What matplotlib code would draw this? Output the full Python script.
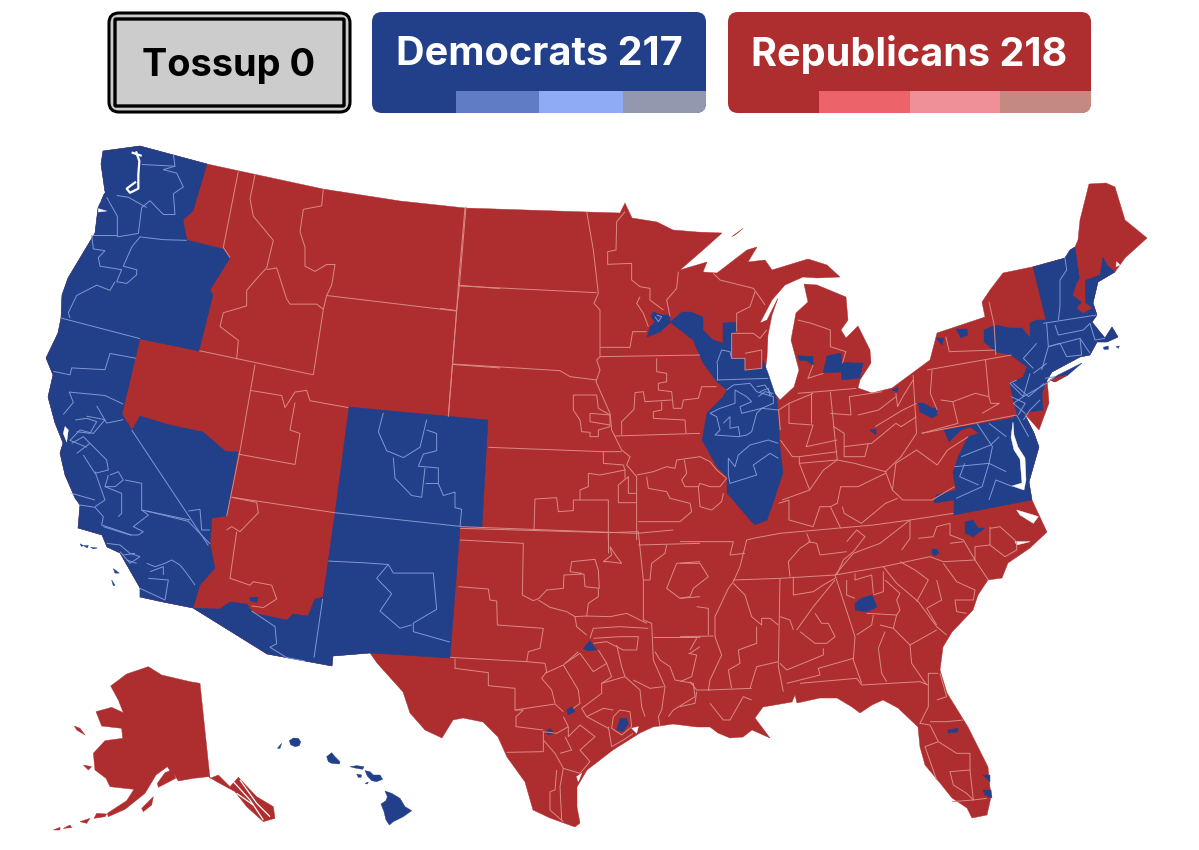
import matplotlib
matplotlib.use('Agg')
import matplotlib.pyplot as plt
from matplotlib.patches import FancyBboxPatch, Polygon, Rectangle
from matplotlib.collections import LineCollection

plt.rcParams['font.family'] = ['Inter', 'DejaVu Sans']

DEM = '#223f8a'
REP = '#ae2e30'
DEM_LINE = '#7f97d4'
REP_LINE = '#da8a84'

# header
labels = ['Tossup 0', 'Democrats 217', 'Republicans 218']
dem_shades = ['#5f7cc4', '#8fabf6', '#9498ae']
rep_shades = ['#ed636a', '#ef9098', '#c48a82']


# converters from the crops I read the outlines on
def z2(p): return [(30 + x / 3, 130 + y / 2.9) for x, y in p]
def z3(p): return [(620 + x / 2.9, 170 + y / 3) for x, y in p]
def z4(p): return [(30 + x / 3, 650 + y / 3) for x, y in p]
def z5(p): return [(680 + x / 3, 500 + y / 3) for x, y in p]
def z6(p): return [(360 + x / 3, 520 + y / 3) for x, y in p]
def z7(p): return [(440 + x / 3, 200 + y / 3) for x, y in p]
def z8(p): return [(40 + x / 3, 400 + y / 3) for x, y in p]
def z9(p): return [(980 + x / 3, 240 + y / 3) for x, y in p]


# outlines, pixel positions on the map
north_east_gulf = [(140, 146), (207, 164), (323, 189), (400, 201), (465, 208), (587, 212), (620, 213), (625, 203),
    (632, 218), (657, 222), (673, 230), (697, 232), (722, 233), (703, 250), (680, 270), (707, 262), (703, 272),
    (717, 273), (747, 250), (757, 247), (748, 262), (765, 260), (772, 270), (808, 259), (827, 265), (840, 277),
    (817, 278), (803, 277), (785, 285), (772, 300), (760, 323), (767, 320), (778, 298), (772, 315), (768, 335),
    (767, 357), (765, 373), (772, 390), (780, 400), (794, 387), (799, 370), (791, 340), (796, 313), (808, 302),
    (804, 284), (817, 285), (846, 297), (848, 320), (841, 330), (846, 338), (858, 326), (870, 350), (871, 363),
    (860, 380), (858, 388), (872, 393), (892, 388), (930, 360), (937, 333), (985, 317), (982, 302), (990, 290),
    (1003, 273), (1032, 267), (1065, 258), (1070, 250), (1075, 247), (1078, 240), (1080, 220), (1089, 184),
    (1106, 183), (1115, 187), (1125, 220), (1147, 238), (1125, 258), (1115, 272), (1098, 282), (1093, 303),
    (1097, 315), (1092, 322), (1100, 332), (1105, 338), (1112, 327), (1118, 337), (1107, 342), (1097, 342),
    (1090, 355), (1080, 357), (1052, 372), (1047, 380), (1048, 390), (1049, 403), (1039, 430), (1024, 413),
    (1034, 433), (1039, 447), (1029, 482), (1032, 500), (1047, 532), (1030, 548), (1008, 563), (1002, 578), (988, 580),
    (978, 595), (973, 610), (952, 632), (943, 647), (940, 670), (947, 693), (968, 727), (988, 767), (991, 797),
    (987, 815), (972, 818), (967, 808), (952, 798), (940, 783), (925, 765), (920, 747), (918, 727), (898, 708),
    (883, 700), (872, 705), (860, 713), (852, 707), (837, 698), (820, 698), (797, 703), (795, 695), (792, 702),
    (763, 707), (755, 718), (770, 738), (752, 730), (743, 737), (730, 738), (718, 733), (710, 727), (697, 727),
    (673, 724), (653, 727), (640, 733), (613, 750), (587, 770), (577, 787), (577, 807), (580, 823), (575, 827),
    (550, 818), (533, 810), (525, 782), (507, 757), (498, 737), (483, 722), (463, 718), (453, 720), (442, 738),
    (425, 730), (410, 713), (403, 692), (377, 663), (370, 653)]
mexico_border = [(333, 656), (332, 666), (267, 654), (193, 608)]
west_coast = [(163, 602), (140, 597), (140, 588), (120, 553), (107, 547), (102, 535), (78, 528), (80, 505), (75, 498),
    (65, 475), (60, 453), (63, 443), (55, 423), (48, 397), (53, 375), (46, 358), (58, 333), (61, 318), (62, 295),
    (68, 278), (80, 258), (95, 233), (98, 208), (105, 192), (101, 164), (103, 151)]

dem_west_edge = [(140, 146), (207, 164), (193, 211), (183, 220), (187, 240), (223, 249), (230, 258), (210, 290),
    (213, 295), (199, 351), (140, 339), (122, 414), (132, 430), (140, 416), (170, 425), (203, 432), (225, 451),
    (238, 452), (227, 516), (212, 518), (210, 544), (215, 568), (200, 585), (193, 608)]
dem_southwest = [(193, 608), (220, 609), (230, 602), (247, 604), (253, 613), (287, 620), (293, 614), (308, 616),
    (315, 599), (323, 597), (335, 513), (349, 407), (488, 420), (482, 527), (460, 528), (450, 658), (370, 653),
    (333, 656), (332, 666), (267, 654)]
dem_midwest = [(670, 322), (682, 312), (691, 312), (703, 317), (703, 330), (713, 340), (723, 343), (723, 323), (737, 322),
    (737, 332), (732, 333), (732, 358), (745, 358), (745, 370), (762, 368), (763, 360), (768, 373), (777, 400),
    (780, 447), (783, 473), (773, 503), (767, 520), (755, 525), (750, 520), (727, 493), (727, 477), (717, 467),
    (702, 440), (707, 413), (723, 397), (727, 390), (717, 382), (703, 363), (693, 340)]
dem_minneapolis = [(653, 312), (662, 315), (670, 315), (670, 323), (660, 332), (647, 337), (650, 327), (655, 322), (651, 317)]
dem_northeast = [(1033, 267), (1065, 258), (1070, 250), (1075, 247), (1080, 283), (1086, 280), (1100, 275),
    (1103, 257), (1107, 265), (1115, 272), (1098, 282), (1093, 303), (1097, 315), (1092, 322), (1100, 332),
    (1105, 338), (1112, 327), (1118, 337), (1107, 342), (1097, 342), (1090, 355), (1080, 357), (1052, 372),
    (1047, 380), (1042, 393), (1043, 410), (1024, 413), (1034, 433), (1039, 447), (1029, 482), (1032, 500),
    (954, 515), (954, 500), (934, 503), (936, 495), (956, 490), (953, 473), (958, 457), (968, 437), (979, 433),
    (970, 427), (961, 430), (949, 442), (944, 430), (1013, 418), (1017, 413), (1013, 400), (1010, 383), (1023, 377),
    (1027, 367), (1011, 355), (996, 352), (984, 342), (984, 330), (996, 325), (1010, 328), (1022, 328), (1030, 338),
    (1030, 323), (1037, 320), (1046, 320)]
dem_long_island = [(1058, 375), (1082, 363), (1068, 375), (1055, 382), (1050, 380)]
rep_new_hampshire = [(1080, 278), (1085, 280), (1085, 303), (1092, 308), (1083, 313), (1077, 308), (1082, 302),
    (1073, 295), (1077, 283)]
rep_long_island = [(1068, 375), (1055, 382), (1050, 380), (1058, 377)]

dem_small = [
    z3([(515, 557), (530, 558), (560, 560), (560, 585), (540, 572), (520, 572)]),
    [(827, 356), (841, 353), (842, 362), (854, 363), (863, 363), (860, 378), (842, 380), (841, 372), (823, 373)],
    [(956, 329), (967, 329), (968, 335), (961, 338)],
    [(936, 338), (944, 338), (942, 345)],
    [(891, 390), (898, 387), (898, 392)],
    [(918, 403), (923, 403), (932, 408), (937, 408), (937, 415), (932, 418), (920, 412)],
    [(870, 430), (876, 429), (876, 435)],
    [(965, 522), (973, 520), (978, 528), (985, 528), (973, 537), (965, 533)],
    [(932, 549), (937, 549), (939, 553), (935, 556), (932, 554)],
    [(855, 603), (862, 598), (872, 595), (877, 607), (867, 612), (855, 610)],
    [(948, 730), (958, 728), (958, 732), (948, 733)],
    [(983, 775), (990, 775), (990, 782)],
    [(983, 790), (991, 790), (992, 798), (985, 795)],
    z6([(670, 385), (690, 362), (710, 390), (680, 392)]),
    z6([(620, 570), (635, 560), (645, 575), (625, 585)]),
    z6([(555, 635), (570, 625), (585, 640), (565, 645)]),
    z6([(780, 595), (800, 595), (805, 610), (790, 635), (770, 630)]),
    z2([(660, 1355), (685, 1355), (680, 1370), (660, 1365)]),
    z2([(150, 1200), (160, 1205), (155, 1208)]),
    z2([(160, 1205), (175, 1205), (172, 1212)]),
    z2([(182, 1210), (202, 1212), (190, 1215)]),
    z2([(250, 1272), (268, 1285), (255, 1285)]),
    z2([(245, 1305), (255, 1320), (250, 1322)]),
    z9([(370, 322), (385, 318), (385, 328), (372, 328)]),
    z9([(408, 320), (418, 318), (415, 325)]),
]

hawaii = [
    z4([(1065, 423), (1085, 430), (1110, 445), (1125, 470), (1145, 482), (1120, 500), (1090, 515), (1078, 525),
        (1068, 510), (1062, 485), (1053, 462), (1068, 452), (1072, 440)]),
    z4([(1005, 362), (1020, 365), (1030, 375), (1050, 375), (1058, 388), (1040, 395), (1025, 392), (1012, 378)]),
    z4([(960, 350), (980, 347), (1002, 350), (998, 358), (975, 354)]),
    z4([(980, 372), (995, 375), (993, 382), (985, 382)]),
    z4([(1005, 400), (1015, 396), (1012, 402)]),
    z4([(890, 320), (905, 308), (915, 320), (930, 335), (928, 342), (905, 340), (895, 335)]),
    z4([(778, 272), (790, 264), (805, 265), (812, 275), (808, 287), (795, 290), (782, 284)]),
    z4([(742, 295), (755, 280), (750, 295)]),
]

alaska = z4([(355, 50), (395, 75), (480, 95), (510, 100), (540, 385), (565, 375), (600, 410), (625, 382), (680, 440),
    (730, 470), (735, 505), (700, 515), (650, 470), (615, 425), (560, 395), (535, 380), (490, 385), (445, 393),
    (432, 372), (437, 385), (385, 412), (382, 400), (405, 368), (420, 362), (412, 350), (378, 375), (360, 405),
    (345, 430), (285, 478), (235, 500), (232, 490), (290, 452), (312, 418), (240, 410), (228, 385), (195, 360),
    (190, 310), (225, 272), (278, 265), (275, 235), (215, 228), (198, 185), (245, 172), (280, 188), (265, 150),
    (242, 108), (290, 72)])
alaska_islands = [
    z4([(133, 228), (150, 235), (165, 255), (140, 240)]),
    z4([(160, 345), (185, 350), (175, 360)]),
    z4([(335, 475), (370, 440), (365, 465), (340, 485)]),
    z4([(230, 492), (200, 490), (192, 505), (225, 500)]),
    z4([(180, 505), (150, 515), (170, 520)]),
    z4([(120, 525), (100, 535), (125, 533)]),
    z4([(90, 532), (70, 540), (90, 540)]),
    z7([(875, 110), (910, 85), (885, 105)]),
]
alaska_channels = [
    z4([(610, 395), (660, 450), (700, 510)]),
    z4([(630, 390), (680, 460), (720, 500)]),
    z4([(620, 430), (670, 465)]),
]

white_water = [
    z2([(205, 228), (230, 235), (205, 238)]),
    z2([(215, 175), (225, 180), (215, 190), (210, 210)]),
    z2([(105, 860), (115, 870), (110, 905), (100, 880)]),
    [(1013, 422), (1011, 437), (1014, 450), (1020, 459), (1022, 483), (1012, 486), (1024, 490), (1026, 480),
     (1025, 458), (1018, 447), (1014, 435)],
    z5([(1010, 30), (1060, 45), (1075, 50), (1060, 70), (1020, 45)]),
    z5([(1005, 125), (1050, 125), (1010, 135)]),
    z6([(815, 625), (835, 620), (830, 640)]),
    z6([(650, 770), (665, 760), (655, 785)]),
    z9([(410, 65), (420, 75), (408, 80)]),
    z9([(430, 70), (440, 72), (432, 85)]),
    z9([(448, 55), (458, 58), (450, 70)]),
]
puget_sound = [
    z2([(318, 62), (328, 90), (325, 130), (325, 170), (300, 182), (290, 170), (318, 150)]),
    z2([(305, 65), (335, 75)]),
]

# district and state lines on the red side
rep_lines = [
    # mountain west
    z2([(625, 120), (580, 340), (600, 370)]),
    z2([(675, 130), (660, 200), (670, 250), (730, 320), (710, 400), (690, 420), (650, 465), (650, 510), (580, 530),
        (570, 570), (625, 610), (620, 665)]),
    z2([(880, 170), (875, 220), (820, 230), (810, 295), (825, 340), (825, 395), (855, 410), (890, 390), (915, 390),
        (905, 450), (890, 480), (880, 520), (850, 710)]),
    z2([(710, 405), (740, 400), (770, 490), (780, 505), (860, 505), (880, 520)]),
    z2([(890, 480), (1280, 525)]),
    z2([(1305, 225), (1285, 450), (1280, 525), (1255, 830)]),
    z2([(1285, 450), (1410, 460)]),
    z2([(1268, 680), (1410, 690)]),
    z2([(508, 640), (850, 710)]),
    z2([(675, 680), (630, 930), (590, 1120)]),
    z2([(660, 755), (755, 770), (765, 805), (795, 760), (830, 755), (840, 785), (955, 805)]),
    z2([(795, 790), (780, 870), (810, 880), (795, 970), (625, 940)]),
    z2([(605, 1065), (915, 1110)]),
    z2([(605, 1065), (680, 1080), (685, 1110), (630, 1165), (605, 1150), (590, 1160)]),
    z2([(620, 1165), (600, 1300), (660, 1320), (670, 1310), (725, 1320), (740, 1360), (700, 1385), (665, 1380)]),
    # plains and upper midwest
    z7([(78, 20), (58, 260), (50, 330), (25, 650)]),
    z7([(0, 325), (50, 332)]),
    z7([(60, 258), (470, 278)]),
    z7([(38, 492), (360, 512), (390, 530), (470, 540)]),
    z7([(440, 35), (460, 150), (475, 280), (462, 310), (480, 330), (480, 470), (470, 480), (480, 510), (468, 545),
        (510, 640), (515, 690), (545, 750), (570, 770), (560, 795), (590, 830), (590, 1020)]),
    z7([(145, 742), (490, 755), (545, 755)]),
    z7([(480, 470), (780, 465)]),
    z7([(480, 442), (570, 442), (578, 395), (620, 395)]),
    z7([(555, 35), (530, 65), (528, 150), (503, 155), (503, 193), (575, 190), (575, 240), (600, 260), (630, 265),
        (630, 300), (670, 330)]),
    z7([(600, 290), (590, 310), (610, 340), (625, 380)]),
    z7([(690, 350), (680, 300), (710, 265), (715, 215)]),
    z7([(820, 220), (840, 240), (940, 265), (965, 300), (975, 315)]),
    z7([(945, 275), (930, 320), (890, 340), (890, 395)]),
    z7([(875, 400), (940, 400), (960, 415), (980, 390)]),
    z7([(875, 400), (875, 475), (915, 475), (915, 510), (965, 505), (965, 450), (915, 460)]),
    z7([(650, 475), (650, 515), (680, 520), (680, 545), (655, 550), (655, 570), (695, 575), (700, 625), (725, 625),
        (730, 600), (775, 595), (785, 560), (830, 560)]),
    z7([(695, 600), (615, 605), (610, 575), (585, 578), (582, 628), (545, 665), (545, 705)]),
    z7([(665, 605), (665, 630), (640, 635), (640, 655), (735, 660), (738, 700)]),
    z7([(525, 708), (780, 700)]),
    z7([(400, 585), (470, 585), (475, 625), (510, 645), (510, 680), (475, 690), (475, 710), (450, 710), (450, 697),
        (425, 695), (420, 660), (400, 630), (400, 585)]),
    z7([(450, 640), (510, 645)]),
    z7([(450, 640), (450, 665), (510, 675)]),
    z7([(590, 825), (640, 815), (680, 800), (705, 805), (710, 780), (780, 770), (810, 785), (830, 810), (860, 835)]),
    z7([(733, 780), (740, 820), (725, 840), (735, 860), (775, 860), (780, 850), (810, 860), (840, 860), (860, 835)]),
    z7([(620, 830), (625, 865), (680, 875), (690, 895), (750, 910), (755, 935), (720, 965), (595, 965)]),
    z7([(775, 860), (780, 920), (815, 930), (845, 905), (850, 880)]),
    z7([(590, 880), (565, 880), (565, 830), (535, 855), (535, 908), (590, 908)]),
    z7([(445, 820), (445, 860), (420, 870), (420, 900), (505, 900), (505, 1020)]),
    z7([(445, 820), (480, 825), (530, 815), (555, 810), (555, 835)]),
    z7([(490, 755), (490, 790), (550, 795), (555, 810)]),
    z7([(420, 900), (400, 900), (400, 932), (355, 935), (350, 893), (285, 897), (282, 990)]),
    z7([(62, 980), (590, 1000), (700, 990)]),
    # oklahoma, texas, arkansas, louisiana
    z6([(300, 25), (745, 38), (835, 35), (850, 180), (850, 300), (875, 310), (880, 420), (915, 500), (905, 570),
        (895, 590), (900, 620)]),
    z6([(300, 60), (490, 70), (487, 225), (520, 242), (537, 235), (560, 210), (610, 205), (612, 165), (672, 162),
        (675, 200), (718, 205), (715, 150), (705, 118), (635, 125), (630, 155), (665, 160)]),
    z6([(715, 205), (715, 230), (685, 250), (680, 290)]),
    z6([(730, 125), (755, 105), (750, 80), (770, 110), (785, 130), (745, 125), (730, 125)]),
    z6([(745, 38), (745, 100)]),
    z6([(535, 240), (570, 262), (620, 275), (645, 290), (680, 288), (750, 290), (800, 280), (860, 310)]),
    z6([(865, 325), (780, 320), (700, 325), (690, 355)]),
    z6([(700, 355), (780, 350), (835, 350), (830, 390), (790, 390), (740, 365), (700, 370)]),
    z6([(645, 290), (650, 320), (680, 345)]),
    z6([(295, 200), (385, 207), (390, 240), (410, 243), (412, 315), (550, 325), (545, 355), (540, 385), (505, 395),
        (500, 425), (555, 430), (560, 455), (545, 475), (575, 510), (585, 550)]),
    z6([(270, 412), (500, 425)]),
    z6([(285, 415), (285, 445), (385, 458), (385, 497), (465, 505), (465, 570), (490, 570), (468, 590), (468, 620),
        (550, 630)]),
    z6([(465, 570), (585, 552), (610, 575)]),
    z6([(555, 460), (610, 435), (655, 395)]),
    z6([(610, 435), (655, 510), (660, 550), (640, 565)]),
    z6([(615, 430), (660, 400), (700, 455), (740, 430), (755, 470), (725, 490), (725, 520), (665, 565), (680, 590),
        (730, 565), (760, 570)]),
    z6([(740, 430), (715, 390)]),
    z6([(770, 375), (785, 440), (795, 470), (840, 510), (845, 560), (855, 590)]),
    z6([(795, 470), (725, 490)]),
    z6([(820, 480), (870, 505), (910, 500)]),
    z6([(610, 590), (625, 620), (590, 640), (550, 635), (550, 695), (440, 697)]),
    z6([(625, 620), (625, 650), (660, 615), (705, 650), (660, 690), (690, 725), (660, 760), (610, 745), (585, 700),
        (550, 660)]),
    z6([(615, 650), (635, 690), (600, 700)]),
    z6([(745, 620), (755, 680), (790, 660), (820, 640)]),
    z6([(680, 590), (745, 625)]),
    z6([(590, 750), (585, 810), (570, 815), (570, 870), (610, 905)]),
    z6([(610, 745), (600, 800), (605, 900)]),
    z6([(760, 590), (780, 570), (810, 575), (815, 620), (785, 645), (755, 625), (760, 590)]),
    z6([(880, 350), (1020, 350)]),
    z6([(885, 395), (900, 420), (930, 440), (945, 480), (1000, 490), (1005, 530), (940, 570), (925, 590)]),
    z6([(990, 400), (1020, 380)]),
    z6([(835, 75), (1020, 70)]),
    z6([(850, 180), (870, 180), (875, 130), (915, 100), (920, 75)]),
    z6([(950, 130), (920, 205), (960, 235), (1020, 230)]),
    z6([(950, 130), (1020, 125)]),
    # south
    z5([(220, 115), (300, 100), (580, 75), (690, 60), (820, 40)]),
    z5([(160, 240), (300, 235), (465, 225), (610, 200), (750, 170), (790, 185), (885, 180), (925, 240)]),
    z5([(465, 225), (520, 160), (600, 130), (690, 60)]),
    z5([(300, 235), (295, 500), (310, 575)]),
    z5([(465, 225), (525, 410), (520, 480), (545, 550)]),
    z5([(360, 550), (530, 535), (545, 555), (720, 545), (745, 555)]),
    z5([(610, 200), (650, 250), (715, 305), (770, 380), (800, 405)]),
    z5([(220, 115), (200, 120), (180, 200), (160, 245), (145, 265), (105, 350), (105, 410), (125, 465), (90, 540),
        (85, 570), (215, 565)]),
    z5([(0, 410), (100, 408)]),
    z5([(0, 125), (160, 125), (150, 165), (195, 160)]),
    z5([(380, 100), (390, 125), (360, 145), (325, 185), (330, 230)]),
    z5([(500, 125), (530, 90), (555, 110), (520, 155), (490, 180), (470, 225)]),
    z5([(420, 165), (500, 155)]),
    z5([(385, 125), (410, 130), (420, 165)]),
    z5([(340, 230), (340, 285), (400, 275), (430, 255), (465, 235)]),
    z5([(350, 390), (400, 320), (465, 240)]),
    z5([(360, 395), (405, 430), (440, 430), (465, 410), (445, 370), (425, 370), (405, 340)]),
    z5([(300, 350), (330, 360), (340, 390)]),
    z5([(430, 445), (430, 465), (320, 510), (300, 490)]),
    z5([(320, 550), (420, 525), (415, 505), (520, 475)]),
    z5([(160, 250), (195, 285), (215, 350), (245, 375), (245, 355), (270, 355), (295, 375)]),
    z5([(230, 380), (230, 430), (175, 450), (180, 490), (145, 510), (155, 565)]),
    z5([(210, 565), (230, 500), (295, 485)]),
    z5([(30, 450), (50, 415)]),
    z5([(25, 460), (50, 465), (35, 530), (0, 545)]),
    z5([(90, 570), (50, 570), (30, 545)]),
    z5([(50, 575), (45, 610), (0, 620)]),
    z5([(90, 610), (130, 660), (150, 660), (190, 590), (215, 600)]),
    z5([(0, 190), (60, 190), (85, 230), (40, 265), (30, 290), (0, 295)]),
    z5([(50, 320), (85, 325), (85, 405)]),
    z5([(500, 240), (500, 285), (525, 295)]),
    z5([(525, 220), (525, 240), (575, 225), (580, 280)]),
    z5([(610, 215), (610, 275), (580, 285)]),
    z5([(560, 340), (650, 345), (640, 385), (690, 435), (770, 390)]),
    z5([(580, 345), (575, 375), (530, 405)]),
    z5([(600, 375), (640, 385)]),
    z5([(615, 240), (660, 280), (650, 300), (660, 330), (650, 345)]),
    z5([(595, 445), (605, 520), (620, 545)]),
    z5([(595, 445), (615, 395)]),
    z5([(690, 435), (695, 490), (740, 555)]),
    z5([(660, 185), (705, 210), (745, 240), (710, 305)]),
    z5([(790, 190), (830, 245), (885, 270), (880, 300), (825, 300), (830, 335), (860, 340)]),
    z5([(770, 240), (785, 300), (740, 325), (770, 375)]),
    z5([(775, 520), (745, 520), (745, 620), (720, 670), (750, 675), (775, 725), (735, 740), (770, 840)]),
    z5([(770, 600), (800, 590), (780, 520)]),
    z5([(750, 665), (800, 665), (850, 660)]),
    z5([(775, 725), (830, 760), (870, 760), (870, 810), (810, 815), (820, 855), (860, 880), (880, 900), (815, 905)]),
    z5([(870, 810), (880, 900), (920, 895)]),
    z5([(690, 60), (690, 115), (665, 150)]),
    z5([(715, 115), (760, 110), (770, 80), (810, 70), (810, 105), (850, 120), (885, 180), (885, 140), (930, 135),
        (930, 80)]),
    z5([(810, 130), (850, 125)]),
    z5([(930, 135), (975, 170), (1010, 150), (1010, 125), (960, 80), (930, 85)]),
    # great lakes, ohio valley
    z3([(515, 450), (555, 460), (610, 480), (610, 530), (655, 545), (645, 580)]),
    z3([(560, 585), (545, 625), (590, 610)]),
    z3([(515, 670), (610, 662), (685, 655)]),
    z3([(610, 665), (620, 770), (630, 870)]),
    z3([(850, 615), (860, 790)]),
    z3([(890, 600), (1135, 555)]),
    z3([(875, 790), (1150, 735)]),
    z3([(630, 870), (680, 880), (770, 905), (815, 860), (860, 790)]),
    z3([(1090, 555), (1085, 465), (1070, 395)]),
    z3([(905, 600), (900, 670), (920, 720)]),
    z3([(930, 690), (965, 695), (1030, 670), (1070, 680), (1075, 700), (1100, 700), (1050, 730)]),
    z3([(1060, 570), (1070, 680)]),
    z3([(965, 695), (980, 760), (875, 790)]),
    z3([(945, 500), (955, 545), (1090, 540)]),
    z3([(470, 990), (550, 960), (590, 900), (630, 870)]),
    z3([(460, 1000), (490, 990), (490, 1050), (560, 1070), (580, 1010), (610, 1010), (640, 1075)]),
    z3([(610, 1010), (630, 1000), (640, 950), (690, 950), (770, 910)]),
    z3([(645, 1010), (650, 1030), (700, 1060), (770, 1000), (805, 985)]),
    z3([(550, 960), (520, 880), (630, 870)]),
    z3([(465, 780), (460, 720), (490, 700), (560, 670)]),
    z3([(490, 700), (490, 760), (560, 765), (540, 830), (630, 810)]),
    z3([(555, 670), (555, 760)]),
    z3([(520, 880), (520, 860), (630, 845)]),
    z3([(465, 810), (500, 860), (520, 860)]),
    z3([(610, 730), (670, 735), (665, 680), (760, 665)]),
    z3([(690, 735), (750, 720), (800, 680)]),
    z3([(620, 770), (650, 790), (650, 830), (730, 820), (800, 760), (815, 770), (860, 740)]),
    z3([(650, 830), (650, 860), (710, 860), (720, 820)]),
    z3([(800, 670), (805, 710), (820, 680), (850, 630)]),
    z3([(740, 770), (820, 720), (860, 700)]),
    z3([(770, 905), (790, 960), (820, 990), (905, 990), (970, 950)]),
    z3([(790, 960), (800, 880), (860, 840), (920, 885), (950, 840), (1010, 800)]),
]

dem_lines = [
    # washington, oregon
    z2([(430, 70), (435, 105), (335, 100)]),
    z2([(435, 105), (400, 115), (440, 125), (460, 165), (430, 185), (435, 245), (400, 245), (360, 205), (335, 225),
        (325, 300), (262, 310)]),
    z2([(260, 190), (295, 195), (350, 225)]),
    z2([(230, 195), (262, 250), (262, 310)]),
    z2([(185, 305), (190, 345), (225, 350), (205, 370), (210, 395), (275, 405), (260, 440), (290, 445), (320, 420),
        (320, 405), (280, 395), (305, 340), (330, 310), (400, 318), (470, 320)]),
    z2([(262, 305), (185, 305)]),
    z2([(255, 440), (240, 465), (200, 450), (140, 480), (115, 530), (120, 545)]),
    z2([(92, 545), (330, 605)]),
    # california, nevada
    z2([(70, 700), (120, 710), (125, 690), (225, 695), (240, 648), (318, 662)]),
    z2([(280, 795), (225, 770), (118, 760), (130, 790), (100, 825)]),
    z2([(280, 840), (230, 850), (200, 800)]),
    z2([(305, 870), (535, 1205)]),
    z2([(350, 1105), (475, 1135), (540, 1200)]),
    z2([(475, 1105), (510, 1100), (515, 1160), (540, 1160)]),
    z2([(170, 830), (225, 840), (190, 880), (150, 870), (120, 900), (170, 920)]),
    z8([(200, 430), (240, 435), (270, 460), (300, 470)]),
    z8([(240, 455), (270, 490), (300, 470)]),
    z8([(250, 465), (285, 460)]),
    z8([(260, 480), (290, 490)]),
    z8([(320, 490), (345, 500), (375, 490), (395, 480), (420, 495), (440, 520), (465, 555)]),
    z8([(300, 565), (375, 600), (385, 540), (325, 535)]),
    z8([(330, 515), (370, 500), (370, 525)]),
    z8([(190, 380), (270, 405), (295, 405), (310, 395), (280, 380), (325, 345), (305, 330)]),
    z8([(150, 130), (200, 180), (205, 210), (165, 220), (130, 165)]),
    z8([(165, 215), (195, 300), (165, 320)]),
    z8([(205, 225), (195, 260), (245, 280), (245, 340), (235, 350)]),
    z8([(255, 240), (305, 250), (305, 330), (450, 360)]),
    z8([(95, 130), (130, 110), (150, 130), (110, 160)]),
    z8([(105, 60), (140, 55), (170, 65), (150, 100), (110, 95)]),
    z8([(95, 280), (165, 300)]),
    z8([(120, 315), (165, 322), (190, 350), (185, 375), (275, 405)]),
    z8([(210, 225), (235, 215), (250, 240), (225, 260), (195, 260)]),
    # arizona, new mexico, colorado
    z2([(665, 1395), (735, 1440), (740, 1490), (720, 1500), (770, 1530), (825, 1540)]),
    z2([(878, 1360), (852, 1530)]),
    z2([(895, 1250), (1000, 1255), (1075, 1260), (1090, 1285), (1210, 1285), (1220, 1390), (1150, 1430), (1150, 1455),
        (1260, 1485)]),
    z2([(1075, 1260), (1040, 1300), (1085, 1345), (1050, 1395), (1110, 1445), (1145, 1435)]),
    z2([(915, 1110), (1295, 1150)]),
    z2([(1060, 820), (1045, 875), (1070, 930), (1120, 950), (1170, 920), (1190, 840)]),
    z2([(1190, 870), (1220, 880), (1220, 930), (1180, 940), (1165, 975), (1225, 980), (1225, 1025), (1240, 1060),
        (1275, 1050), (1275, 1095), (1295, 1100), (1290, 1150)]),
    z2([(1090, 950), (1095, 1010), (1145, 1060), (1175, 1065), (1185, 980)]),
    z2([(1185, 1025), (1225, 1025)]),
    # wisconsin, illinois
    z7([(830, 540), (985, 535)]),
    z7([(830, 490), (845, 450), (870, 455), (875, 475)]),
    z7([(830, 490), (830, 540)]),
    z7([(860, 570), (880, 555), (930, 550), (950, 575), (1000, 590), (1000, 610), (965, 625), (905, 640), (900, 620),
        (935, 605), (920, 590), (885, 570), (885, 610), (840, 625), (810, 640), (830, 650), (840, 690), (825, 705),
        (895, 710), (920, 705), (935, 695), (950, 640), (965, 625), (1015, 630)]),
    z7([(850, 670), (870, 650), (870, 685), (895, 680), (900, 710)]),
    z7([(1015, 730), (985, 720), (930, 735), (895, 765), (885, 800), (865, 775), (865, 825), (870, 850), (950, 825),
        (940, 795), (990, 760), (1015, 775)]),
    z7([(950, 560), (975, 555), (995, 585)]),
    z7([(960, 575), (985, 565), (990, 590)]),
    z7([(955, 590), (975, 575), (1000, 580)]),
    z7([(650, 345), (665, 350), (655, 365), (645, 350)]),
    # new york, new england, mid atlantic
    z9([(255, 55), (260, 90), (240, 120), (240, 200), (235, 240)]),
    z9([(190, 250), (350, 225)]),
    z9([(205, 320), (300, 295), (330, 340)]),
    z9([(200, 250), (205, 320), (185, 390)]),
    z9([(225, 255), (235, 285), (310, 270), (330, 250)]),
    z9([(300, 295), (305, 345), (260, 350), (240, 310), (205, 320)]),
    z9([(170, 310), (130, 355), (160, 385)]),
    z9([(160, 400), (200, 370)]),
    z9([(110, 420), (90, 430), (130, 470), (200, 430)]),
    z9([(130, 470), (100, 490), (135, 520)]),
    z9([(150, 400), (130, 470)]),
    z9([(180, 480), (150, 510), (130, 540)]),
    z9([(330, 250), (345, 300), (375, 295)]),
    z9([(195, 415), (225, 410), (200, 430)]),
    z3([(1035, 760), (1080, 830), (1070, 880), (1120, 905)]),
    z3([(990, 860), (1075, 825), (1100, 800)]),
    z3([(970, 890), (1070, 880), (1050, 950), (975, 985)]),
    z3([(1000, 880), (985, 920), (1040, 945)]),
    z3([(1070, 760), (1120, 800)]),
    z3([(1150, 735), (1185, 800)]),
    z3([(1070, 990), (1090, 930), (1140, 950)]),
    z3([(1140, 640), (1185, 680), (1230, 640)]),
    z3([(1135, 680), (1175, 700), (1155, 735)]),
]

fig = plt.figure(figsize=(11.99, 8.5), dpi=100)
ax = fig.add_axes([0, 0, 1, 1])
ax.set_xlim(0, 1199)
ax.set_ylim(850, 0)
ax.axis('off')


def box(x0, y0, x1, y1, r, **kw):
    p = FancyBboxPatch((x0 + r, y0 + r), x1 - x0 - 2 * r, y1 - y0 - 2 * r,
                       boxstyle='round,pad=%g,rounding_size=%g' % (r, r), **kw)
    ax.add_patch(p)
    return p


# tossup button with its double border
box(109, 13, 350, 112, 10, facecolor='#cccccc', edgecolor='black', linewidth=2.2)
box(115, 19, 344, 106, 1, facecolor='#cccccc', edgecolor='black', linewidth=2.4)
ax.text(229, 66, labels[0], ha='center', va='center', fontsize=27.3, fontweight='bold', color='black')

dem_box = box(372, 12, 706, 113, 10, facecolor=DEM, edgecolor='none')
rep_box = box(728, 12, 1091, 113, 10, facecolor=REP, edgecolor='none')
for i, c in enumerate(dem_shades):
    r = Rectangle((455.5 + i * 83.5, 91), 83.5, 23, facecolor=c, edgecolor='none')
    ax.add_patch(r)
    r.set_clip_path(dem_box)
for i, c in enumerate(rep_shades):
    r = Rectangle((819 + i * 90.7, 91), 90.7, 23, facecolor=c, edgecolor='none')
    ax.add_patch(r)
    r.set_clip_path(rep_box)
ax.text(539, 54.5, labels[1], ha='center', va='center', fontsize=28.5, fontweight='bold', color='white')
ax.text(909, 54.5, labels[2], ha='center', va='center', fontsize=28.5, fontweight='bold', color='white')


def fill(pts, color):
    ax.add_patch(Polygon(pts, closed=True, facecolor=color, edgecolor=color, linewidth=0.3))


# map: red base, blue on top, water, then district lines
fill(north_east_gulf + mexico_border + west_coast, REP)
fill(alaska, REP)
for p in alaska_islands:
    fill(p, REP)
fill(dem_west_edge + west_coast, DEM)
fill(dem_southwest, DEM)
fill(dem_midwest, DEM)
fill(dem_minneapolis, DEM)
fill(dem_northeast, DEM)
fill(dem_long_island, DEM)
fill(rep_new_hampshire, REP)
fill(rep_long_island, REP)
for p in dem_small + hawaii:
    fill(p, DEM)
for p in white_water:
    fill(p, 'white')
ax.add_collection(LineCollection(puget_sound, colors='white', linewidths=1.6))
ax.add_collection(LineCollection(alaska_channels, colors='white', linewidths=0.9))
ax.add_collection(LineCollection(rep_lines, colors=REP_LINE, linewidths=0.7))
ax.add_collection(LineCollection(dem_lines, colors=DEM_LINE, linewidths=0.7))

fig.savefig('out.png', dpi=100, facecolor='white')
